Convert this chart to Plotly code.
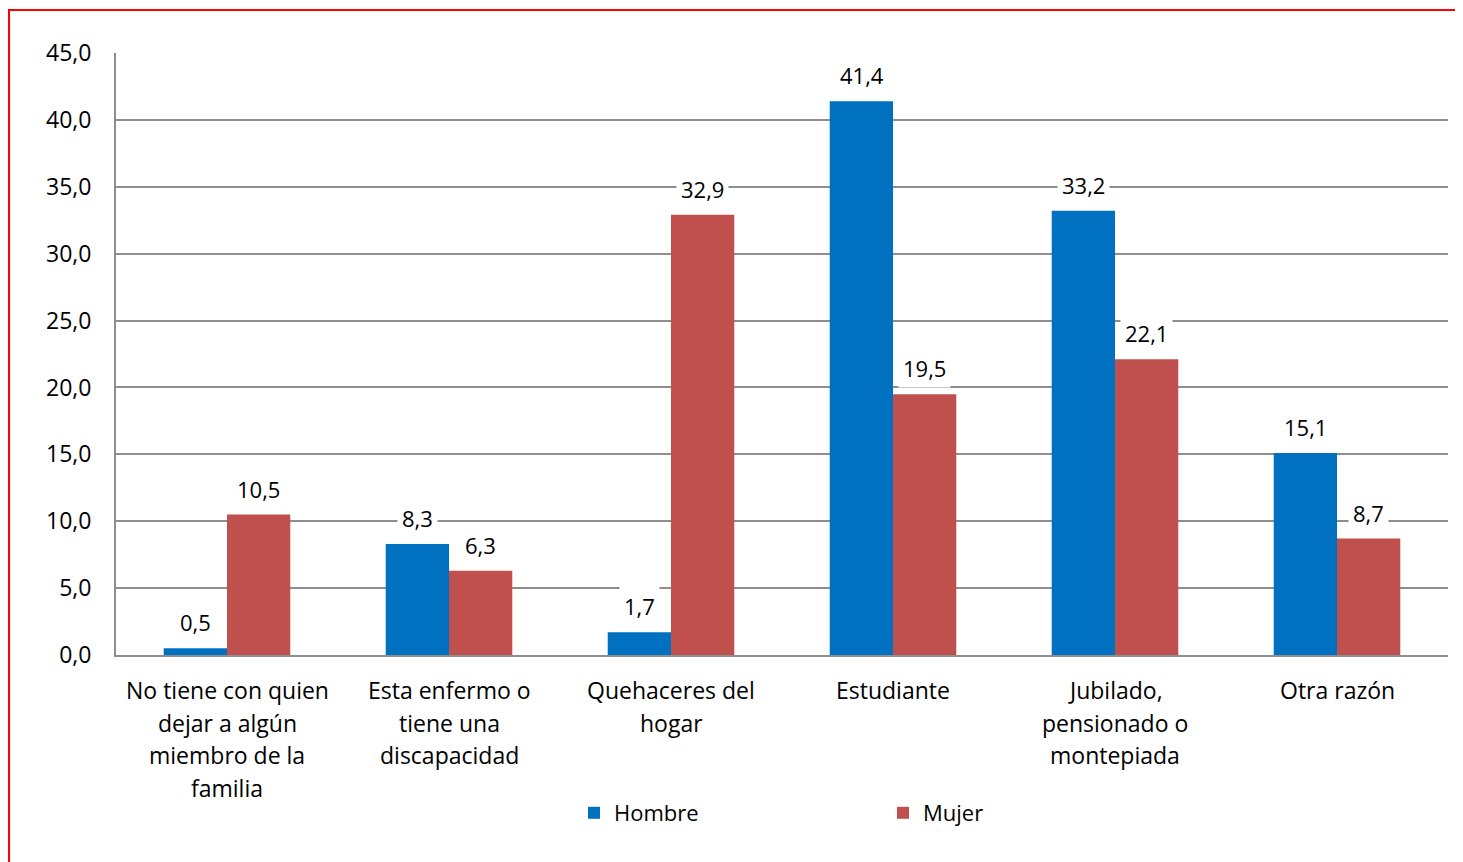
import plotly.graph_objects as go

categories = ["No tiene con quien<br>dejar a algún<br>miembro de la<br>familia",
              "Esta enfermo o<br>tiene una<br>discapacidad",
              "Quehaceres del<br>hogar",
              "Estudiante",
              "Jubilado,<br>pensionado o<br>montepiada",
              "Otra razón"]
hombre = [0.5, 8.3, 1.7, 41.4, 33.2, 15.1]
mujer = [10.5, 6.3, 32.9, 19.5, 22.1, 8.7]
y_ticks = [0, 5, 10, 15, 20, 25, 30, 35, 40, 45]

FONT = "Open Sans"
FS = 23
BLUE = "#0070C0"
RED = "#C0504D"
GRID = "#8E8E8E"

L, R, T, B = 108, 15, 45, 207
W, H = 1455, 854
PW, PH = W - L - R, H - T - B

fig = go.Figure()
fig.add_trace(go.Bar(name="Hombre", x=categories, y=hombre, marker_color=BLUE, marker_line_width=0))
fig.add_trace(go.Bar(name="Mujer", x=categories, y=mujer, marker_color=RED, marker_line_width=0))

annotations = []
for i, c in enumerate(categories):
    for vals, shift in ((hombre, -31.5), (mujer, 31.5)):
        annotations.append(dict(x=c, y=vals[i], xref="x", yref="y", text=f"{vals[i]:.1f}".replace(".", ","),
                                showarrow=False, xshift=shift, yanchor="bottom", yshift=6,
                                bgcolor="white", borderpad=4,
                                font=dict(family=FONT, size=FS - 1, color="black")))
    # category label lines
    for k, line in enumerate(c.split("<br>")):
        annotations.append(dict(x=c, xref="x", yref="paper", y=-(35 + 32.7 * k) / PH,
                                text=line, showarrow=False, yanchor="middle",
                                font=dict(family=FONT, size=FS, color="black")))

fig.update_layout(
    width=W, height=H,
    margin=dict(l=L, r=R, t=T, b=B),
    paper_bgcolor="white", plot_bgcolor="white",
    separators=",.",
    barmode="group", bargap=0.43, bargroupgap=0,
    font=dict(family=FONT, size=FS, color="black"),
    showlegend=True,
    legend=dict(orientation="h", x=(566 - L) / PW, xanchor="left", y=-(158) / PH, yanchor="middle",
                entrywidth=264, entrywidthmode="pixels", font=dict(family=FONT, size=FS - 1),
                itemwidth=30),
    annotations=annotations,
    shapes=[dict(type="rect", xref="paper", yref="paper", x0=(1 - L) / PW, x1=1.2,
                 y0=-1.0, y1=1 + (T - 2) / PH, line=dict(color="#FF0000", width=2), layer="above")],
)
fig.update_yaxes(range=[0, 45], tickvals=y_ticks, tickformat=".1f", showgrid=True,
                 gridcolor=GRID, gridwidth=2, showline=True, linecolor=GRID, linewidth=2,
                 ticks="", ticklabelstandoff=18, zeroline=False, tickfont=dict(size=FS))
fig.update_xaxes(showline=True, linecolor=GRID, linewidth=2, ticks="", showticklabels=False)

fig.write_html("out.html")
